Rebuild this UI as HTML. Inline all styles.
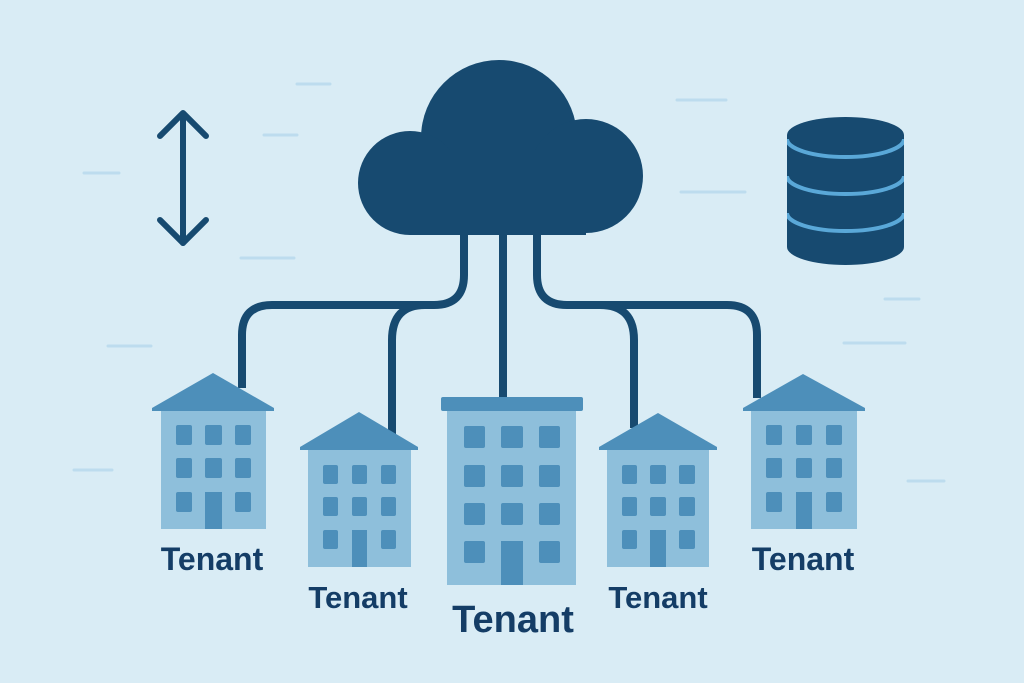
<!DOCTYPE html>
<html><head><meta charset="utf-8"><style>
html,body{margin:0;padding:0;background:#d9ecf5;}
svg{display:block}
text{font-family:"Liberation Sans",sans-serif;font-weight:bold;fill:#143d66;text-anchor:middle}
</style></head><body>
<svg width="1024" height="683" viewBox="0 0 1024 683">
<defs><clipPath id="db"><rect x="787" y="100" width="117" height="180"/></clipPath></defs>
<rect width="1024" height="683" fill="#d9ecf5"/>
<g stroke="#bddcee" stroke-width="3" stroke-linecap="round">
<line x1="297" y1="84" x2="330" y2="84"/><line x1="264" y1="135" x2="297" y2="135"/>
<line x1="84" y1="173" x2="119" y2="173"/><line x1="241" y1="258" x2="294" y2="258"/>
<line x1="108" y1="346" x2="151" y2="346"/><line x1="74" y1="470" x2="112" y2="470"/>
<line x1="677" y1="100" x2="726" y2="100"/><line x1="681" y1="192" x2="745" y2="192"/>
<line x1="885" y1="299" x2="919" y2="299"/><line x1="844" y1="343" x2="905" y2="343"/>
<line x1="908" y1="481" x2="944" y2="481"/>
</g>
<g stroke="#174a70" stroke-width="6" stroke-linecap="round" stroke-linejoin="round" fill="none">
<line x1="183" y1="114" x2="183" y2="243"/>
<polyline points="160,136 183,113 206,136"/>
<polyline points="160,220 183,243 206,220"/>
</g>
<g stroke="#174a70" stroke-width="8" fill="none">
<path d="M464 230 V275 Q464 305 434 305 H272 Q242 305 242 335 V388"/>
<path d="M425 305 Q392 305 392 340 V438"/>
<path d="M503 230 V400"/>
<path d="M537 230 V275 Q537 305 567 305 H727 Q757 305 757 335 V398"/>
<path d="M600 305 Q634 305 634 340 V428"/>
</g>
<g fill="#174a70">
<circle cx="499" cy="138" r="78"/>
<circle cx="410" cy="183" r="52"/>
<circle cx="586" cy="176" r="57"/>
<rect x="410" y="150" width="176" height="85"/>
</g>
<g>
<path d="M787 135 V247 A58.5 18 0 0 0 904 247 V135 Z" fill="#174a70"/>
<ellipse cx="845.5" cy="135" rx="58.5" ry="18" fill="#174a70"/>
<g stroke="#5aa8d8" stroke-width="4" fill="none" clip-path="url(#db)">
<path d="M787 139 A58.5 18 0 0 0 904 139"/>
<path d="M787 176 A58.5 18 0 0 0 904 176"/>
<path d="M787 213 A58.5 18 0 0 0 904 213"/>
</g>
</g>
<g fill="#8ebfdb"><rect x="161" y="410" width="105" height="119"/><rect x="308" y="449" width="103" height="118"/>
<rect x="447" y="410" width="129" height="175"/><rect x="607" y="449" width="102" height="118"/><rect x="751" y="410" width="106" height="119"/></g>
<g fill="#4d8fba">
<polygon points="152,408 213,373 274,408 274,411 152,411"/>
<polygon points="300,447 359,412 418,447 418,450 300,450"/>
<rect x="441" y="397" width="142" height="14" rx="2"/>
<polygon points="599,447 658,413 717,447 717,450 599,450"/>
<polygon points="743,408 803,374 865,408 865,411 743,411"/>
<rect x="176" y="425" width="16" height="20" rx="2"/><rect x="205" y="425" width="17" height="20" rx="2"/><rect x="235" y="425" width="16" height="20" rx="2"/>
<rect x="176" y="458" width="16" height="20" rx="2"/><rect x="205" y="458" width="17" height="20" rx="2"/><rect x="235" y="458" width="16" height="20" rx="2"/>
<rect x="176" y="492" width="16" height="20" rx="2"/><rect x="205" y="492" width="17" height="37"/><rect x="235" y="492" width="16" height="20" rx="2"/>
<rect x="323" y="465" width="15" height="19" rx="2"/><rect x="352" y="465" width="15" height="19" rx="2"/><rect x="381" y="465" width="15" height="19" rx="2"/>
<rect x="323" y="497" width="15" height="19" rx="2"/><rect x="352" y="497" width="15" height="19" rx="2"/><rect x="381" y="497" width="15" height="19" rx="2"/>
<rect x="323" y="530" width="15" height="19" rx="2"/><rect x="352" y="530" width="15" height="37"/><rect x="381" y="530" width="15" height="19" rx="2"/>
<rect x="464" y="426" width="21" height="22" rx="2"/><rect x="501" y="426" width="22" height="22" rx="2"/><rect x="539" y="426" width="21" height="22" rx="2"/>
<rect x="464" y="465" width="21" height="22" rx="2"/><rect x="501" y="465" width="22" height="22" rx="2"/><rect x="539" y="465" width="21" height="22" rx="2"/>
<rect x="464" y="503" width="21" height="22" rx="2"/><rect x="501" y="503" width="22" height="22" rx="2"/><rect x="539" y="503" width="21" height="22" rx="2"/>
<rect x="464" y="541" width="21" height="22" rx="2"/><rect x="501" y="541" width="22" height="44"/><rect x="539" y="541" width="21" height="22" rx="2"/>
<rect x="622" y="465" width="15" height="19" rx="2"/><rect x="650" y="465" width="16" height="19" rx="2"/><rect x="679" y="465" width="16" height="19" rx="2"/>
<rect x="622" y="497" width="15" height="19" rx="2"/><rect x="650" y="497" width="16" height="19" rx="2"/><rect x="679" y="497" width="16" height="19" rx="2"/>
<rect x="622" y="530" width="15" height="19" rx="2"/><rect x="650" y="530" width="16" height="37"/><rect x="679" y="530" width="16" height="19" rx="2"/>
<rect x="766" y="425" width="16" height="20" rx="2"/><rect x="796" y="425" width="16" height="20" rx="2"/><rect x="826" y="425" width="16" height="20" rx="2"/>
<rect x="766" y="458" width="16" height="20" rx="2"/><rect x="796" y="458" width="16" height="20" rx="2"/><rect x="826" y="458" width="16" height="20" rx="2"/>
<rect x="766" y="492" width="16" height="20" rx="2"/><rect x="796" y="492" width="16" height="37"/><rect x="826" y="492" width="16" height="20" rx="2"/>
</g>
<text x="212" y="570" font-size="32">Tenant</text>
<text x="358" y="608" font-size="31">Tenant</text>
<text x="513" y="632" font-size="38">Tenant</text>
<text x="658" y="608" font-size="31">Tenant</text>
<text x="803" y="570" font-size="32">Tenant</text>
</svg>
</body></html>
